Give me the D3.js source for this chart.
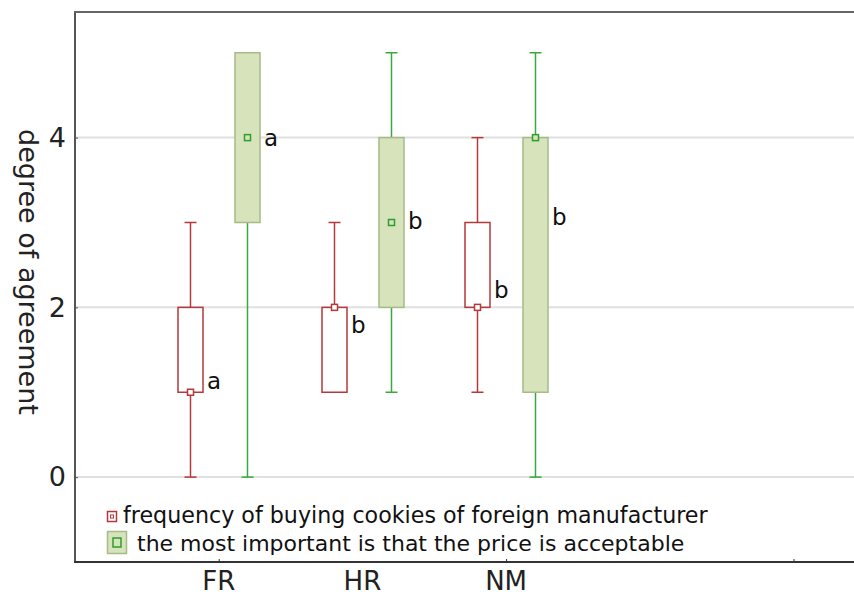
<!DOCTYPE html>
<html>
<head>
<meta charset="utf-8">
<script src="https://cdn.jsdelivr.net/npm/d3@7/dist/d3.min.js"></script>
<style>
  html, body { margin: 0; padding: 0; background: #fff; }
  svg { display: block; font-family: "DejaVu Sans", Verdana, sans-serif; }
</style>
</head>
<body>
<svg id="chart" width="854" height="599"></svg>
<script>
// ---- data ----
const categories = ["FR", "HR", "NM"];
const seriesNames = [
  "frequency of buying cookies of foreign manufacturer",
  "the most important is that the price is acceptable"
];
// [min, q1, median, q3, max] per category
const frequencyStats = [
  [0, 1, 1, 2, 3],
  [1, 1, 2, 2, 3],
  [1, 2, 2, 3, 4]
];
const priceStats = [
  [0, 3, 4, 5, 5],
  [1, 2, 3, 4, 5],
  [0, 1, 4, 4, 5]
];
const frequencyLetters = ["a", "b", "b"];
const priceLetters = ["a", "b", "b"];
const frequencyLetterY = [1.13, 1.79, 2.2];
const priceLetterY = [4.0, 3.02, 3.07];
const yTicks = [0, 2, 4];

// ---- layout ----
const svg = d3.select("#chart");
const plotLeft = 75, plotTop = 12, plotBottom = 562;
const x = d3.scaleLinear().domain([-1, 4.5]).range([plotLeft, plotLeft + 5.5 * 143.7]);
const y = d3.scaleLinear().domain([-1, 5.48]).range([plotBottom, plotTop]);
const offset = 0.2;
const boxW = 25, capW = 12, markW = 6;

const colors = [
  { stroke: "#b5393b", fill: "none", whisker: "#b5393b", mark: "#b5393b" },
  { stroke: "#a8ba88", fill: "#d6e3bb", whisker: "#3aa83a", mark: "#2f9e2f" }
];

// gridlines
svg.append("g").selectAll("line").data(yTicks).join("line")
  .attr("x1", plotLeft).attr("x2", 854)
  .attr("y1", d => y(d)).attr("y2", d => y(d))
  .attr("stroke", "#e0e0e0").attr("stroke-width", 2);

// y axis
const yAxis = svg.append("g").attr("transform", `translate(${plotLeft},0)`)
  .call(d3.axisLeft(y).tickValues(yTicks).tickSize(-3).tickPadding(9).tickFormat(d3.format("d")));
yAxis.select(".domain").remove();
yAxis.selectAll(".tick line").attr("stroke", "#555");
yAxis.selectAll("text").attr("font-size", 27).attr("fill", "#222")
  .attr("font-family", "'DejaVu Sans', Verdana, sans-serif");

// x axis ticks (inside)
const xAxis = svg.append("g").attr("transform", `translate(0,${plotBottom})`)
  .call(d3.axisBottom(x).tickValues([0, 2, 4]).tickSize(-3).tickFormat(""));
xAxis.select(".domain").remove();
xAxis.selectAll(".tick line").attr("stroke", "#333");

// frame lines
svg.append("line").attr("x1", plotLeft).attr("x2", plotLeft).attr("y1", plotTop).attr("y2", plotBottom)
  .attr("stroke", "#555").attr("stroke-width", 2);
svg.append("line").attr("x1", plotLeft - 1).attr("x2", 854).attr("y1", plotBottom).attr("y2", plotBottom)
  .attr("stroke", "#333").attr("stroke-width", 2);
svg.append("line").attr("x1", plotLeft - 1).attr("x2", 854).attr("y1", plotTop).attr("y2", plotTop)
  .attr("stroke", "#666").attr("stroke-width", 2);

// category labels
svg.append("g").selectAll("text").data(categories).join("text")
  .attr("x", (d, i) => x(i)).attr("y", 590)
  .attr("text-anchor", "middle").attr("font-size", 26).attr("fill", "#222")
  .text(d => d);

// y title
svg.append("text")
  .attr("transform", `translate(19,272) rotate(90)`)
  .attr("text-anchor", "middle").attr("font-size", 27).attr("fill", "#222")
  .text("degree of agreement");

function drawSeries(stats, letters, letterY, si, sign) {
  const c = colors[si];
  const g = svg.append("g");
  stats.forEach((s, i) => {
    const cx = Math.round(x(i + sign * offset)) + 0.5;
    const [mn, q1, md, q3, mx] = s;
    g.append("line").attr("x1", cx).attr("x2", cx).attr("y1", y(mx)).attr("y2", y(q3))
      .attr("stroke", c.whisker).attr("stroke-width", 1.5);
    g.append("line").attr("x1", cx).attr("x2", cx).attr("y1", y(q1)).attr("y2", y(mn))
      .attr("stroke", c.whisker).attr("stroke-width", 1.5);
    [mn, mx].forEach(v => {
      if (v !== q1 && v !== q3) {
        g.append("line").attr("x1", cx - capW / 2).attr("x2", cx + capW / 2)
          .attr("y1", y(v)).attr("y2", y(v)).attr("stroke", c.whisker).attr("stroke-width", 1.5);
      }
    });
    g.append("rect").attr("x", cx - boxW / 2).attr("y", y(q3))
      .attr("width", boxW).attr("height", y(q1) - y(q3))
      .attr("fill", c.fill).attr("stroke", c.stroke).attr("stroke-width", 1.5);
    g.append("rect").attr("x", cx - markW / 2).attr("y", y(md) - markW / 2)
      .attr("width", markW).attr("height", markW)
      .attr("fill", si === 0 ? "#fff" : "#d6e3bb").attr("stroke", c.mark).attr("stroke-width", 1.5);
    g.append("text").attr("x", cx + boxW / 2 + 4).attr("y", y(letterY[i]))
      .attr("dy", "0.35em").attr("font-size", 23).attr("fill", "#111")
      .text(letters[i]);
  });
}
drawSeries(frequencyStats, frequencyLetters, frequencyLetterY, 0, -1);
drawSeries(priceStats, priceLetters, priceLetterY, 1, 1);

// legend
const lg = svg.append("g");
lg.append("rect").attr("x", 107.5).attr("y", 511.5).attr("width", 9).attr("height", 10)
  .attr("fill", "#fff").attr("stroke", "#b5393b").attr("stroke-width", 1.5);
lg.append("rect").attr("x", 110.5).attr("y", 515).attr("width", 3).attr("height", 3)
  .attr("fill", "none").attr("stroke", "#b5393b").attr("stroke-width", 1);
lg.append("text").attr("x", 123).attr("y", 523).attr("font-size", 22.2).attr("fill", "#111")
  .text(seriesNames[0]);
lg.append("rect").attr("x", 107.5).attr("y", 531.5).attr("width", 19).attr("height", 22)
  .attr("fill", "#d6e3bb").attr("stroke", "#a8ba88").attr("stroke-width", 1.5);
lg.append("rect").attr("x", 113).attr("y", 538).attr("width", 8).attr("height", 9)
  .attr("fill", "none").attr("stroke", "#2f9e2f").attr("stroke-width", 1.5);
lg.append("text").attr("x", 137).attr("y", 551).attr("font-size", 22).attr("fill", "#111")
  .text(seriesNames[1]);
</script>
</body>
</html>
